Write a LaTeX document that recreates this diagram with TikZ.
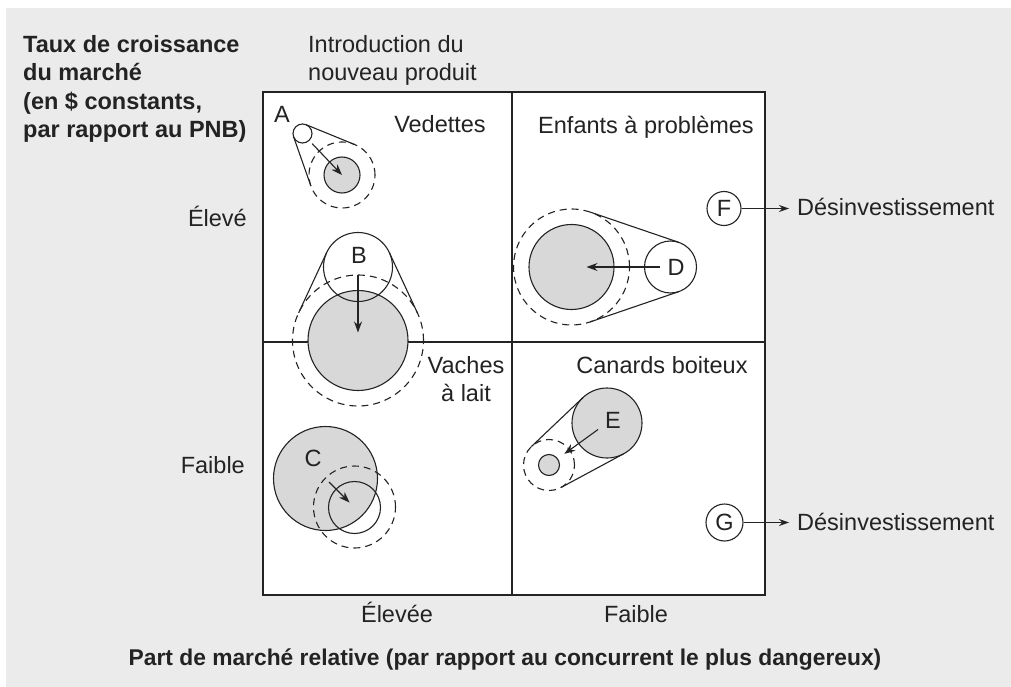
\documentclass[tikz,border=0pt]{standalone}
\usepackage{fontspec}
\setmainfont{Liberation Sans}
\usetikzlibrary{arrows.meta,calc,positioning}
\definecolor{panelgray}{RGB}{235,235,235}
\definecolor{discgray}{RGB}{216,216,216}
\definecolor{inkdark}{RGB}{35,35,35}

% outer tangents between two circles: centre, radius, centre, radius
\newcommand\beltlines[4]{%
  \path[belt] let \p1=($(#3)-(#1)$), \n1={atan2(\y1,\x1)},
    \n2={acos((#2-#4)/veclen(\x1,\y1))}, \n3={\n1+\n2}, \n4={\n1-\n2} in
    ($(#1)+(\n3:#2pt)$) -- ($(#3)+(\n3:#4pt)$)
    ($(#1)+(\n4:#2pt)$) -- ($(#3)+(\n4:#4pt)$);}
\newcommand\bodysize{\fontsize{23.5}{28.5}\selectfont}

\begin{document}
\begin{tikzpicture}[x=1pt,y=-1pt,
    font=\bodysize,
    every node/.style={inner sep=0pt, text=inkdark},
    heading/.style={font=\bodysize\bfseries},
    frame/.style={draw=inkdark, line width=1.5pt},
    disc/.style={circle, fill=discgray, draw=inkdark, line width=1.1pt},
    hollow/.style={circle, draw=inkdark, line width=1.1pt},
    ring/.style={circle, draw=inkdark, line width=1.1pt, dash pattern=on 7pt off 5pt},
    belt/.style={draw=inkdark, line width=1.1pt},
    move/.style={draw=inkdark, line width=1.1pt, -{Stealth[length=11pt,width=8pt]}}]

    \fill[white] (0,0) rectangle (1011,687);
    \useasboundingbox (0,0) rectangle (1011,687);
    \fill[panelgray] (6,8) rectangle (1011,687);

    % matrix
    \coordinate (nw) at (263,92);
    \coordinate (se) at (765,595);
    \draw[frame, fill=white] (nw) rectangle (se);
    \draw[frame] (512,92) -- (512,595);
    \draw[frame] (263,342) -- (765,342);

    % axis texts
    \node[heading, anchor=north west, align=left] (ytitle) at (23,35)
        {Taux de croissance\\du marché\\(en \$ constants,\\par rapport au PNB)};
    \node[anchor=north west, align=left] (intro) at (308,35) {Introduction du\\nouveau produit};
    \node[anchor=base east] (yhigh) at (247,226) {Élevé};
    \node[anchor=base east] (ylow) at (245,473) {Faible};
    \node[anchor=base] (xhigh) at (397,622) {Élevée};
    \node[anchor=base] (xlow) at (636,622) {Faible};
    \node[heading, font=\fontsize{22.8}{27}\selectfont\bfseries, anchor=base] (xtitle) at (505,665)
        {Part de marché relative (par rapport au concurrent le plus dangereux)};

    % quadrant names
    \node[anchor=base] (stars) at (440,133) {Vedettes};
    \node[anchor=base] (kids) at (646,134) {Enfants à problèmes};
    \node[anchor=north, align=center] (cows) at (466,356) {Vaches\\à lait};
    \node[anchor=base] (ducks) at (662,373) {Canards boiteux};

    % shaded positions
    \node[disc, minimum size=36pt] (Anew) at (342,175) {};
    \node[disc, minimum size=100pt] (Bnew) at (358,340.5) {};
    \node[disc, minimum size=104pt] (Cold) at (325.5,478.5) {};
    \node[disc, minimum size=85pt] (Dnew) at (571.5,267) {};
    \node[disc, minimum size=70pt] (Eold) at (607,423) {};
    \node[disc, minimum size=21pt] (Enew) at (549,465) {};

    % dashed rings
    \node[ring, minimum size=66pt] (Aring) at (342,175) {};
    \node[ring, minimum size=131pt] (Bring) at (358,340.5) {};
    \node[ring, minimum size=82pt] (Cring) at (354.5,507) {};
    \node[ring, minimum size=116pt] (Dring) at (571.5,267) {};
    \node[ring, minimum size=51pt] (Ering) at (549,465) {};

    % open positions
    \node[hollow, minimum size=19pt] (Aold) at (302.5,133.5) {};
    \node[hollow, minimum size=69pt] (Bold) at (358,267) {};
    \node[hollow, minimum size=52pt] (Cnew) at (354.5,507.5) {};
    \node[hollow, minimum size=52pt] (Dold) at (670.5,267) {};

    \beltlines{Aold.center}{9.5}{Aring.center}{33}
    \beltlines{Bold.center}{34.5}{Bring.center}{65.5}
    \beltlines{Dold.center}{26}{Dring.center}{58}
    \beltlines{Eold.center}{35}{Ering.center}{25.5}

    % letters
    \node[anchor=base] (Alab) at (282,123) {A};
    \node[anchor=base] (Blab) at (359,263) {B};
    \node[anchor=base] (Clab) at (313,466) {C};
    \node[anchor=base] (Dlab) at (676,275) {D};
    \node[anchor=base] (Elab) at (613,428) {E};

    % moves
    \draw[move] ($(Aold.center)!14pt!(Anew.center)$) -- (Anew.center);
    \draw[move] ($(Bold.center)!8pt!(Bnew.center)$) -- ($(Bnew.center)!8pt!(Bold.center)$);
    \draw[move] ($(Cold.center)!5pt!(Cnew.center)$) -- ($(Cnew.center)!7pt!(Cold.center)$);
    \draw[move] ($(Dold.center)!11pt!(Dnew.center)$) -- ($(Dnew.center)!15pt!(Dold.center)$);
    \draw[move] ($(Eold.center)!11pt!(Enew.center)$) -- ($(Enew.center)!19pt!(Eold.center)$);

    % divestment
    \node[hollow, minimum size=34pt] (F) at (724,208.5) {F};
    \node[hollow, minimum size=37pt] (G) at (724.5,522.5) {G};
    \node[anchor=base west] (Fout) at (797,215) {Désinvestissement};
    \node[anchor=base west] (Gout) at (797,530) {Désinvestissement};
    \draw[move, -{Stealth[length=10pt,width=7pt]}, shorten >=8pt] (F) -- (F -| Fout.west);
    \draw[move, -{Stealth[length=10pt,width=7pt]}, shorten >=8pt] (G) -- (G -| Gout.west);
\end{tikzpicture}
\end{document}
